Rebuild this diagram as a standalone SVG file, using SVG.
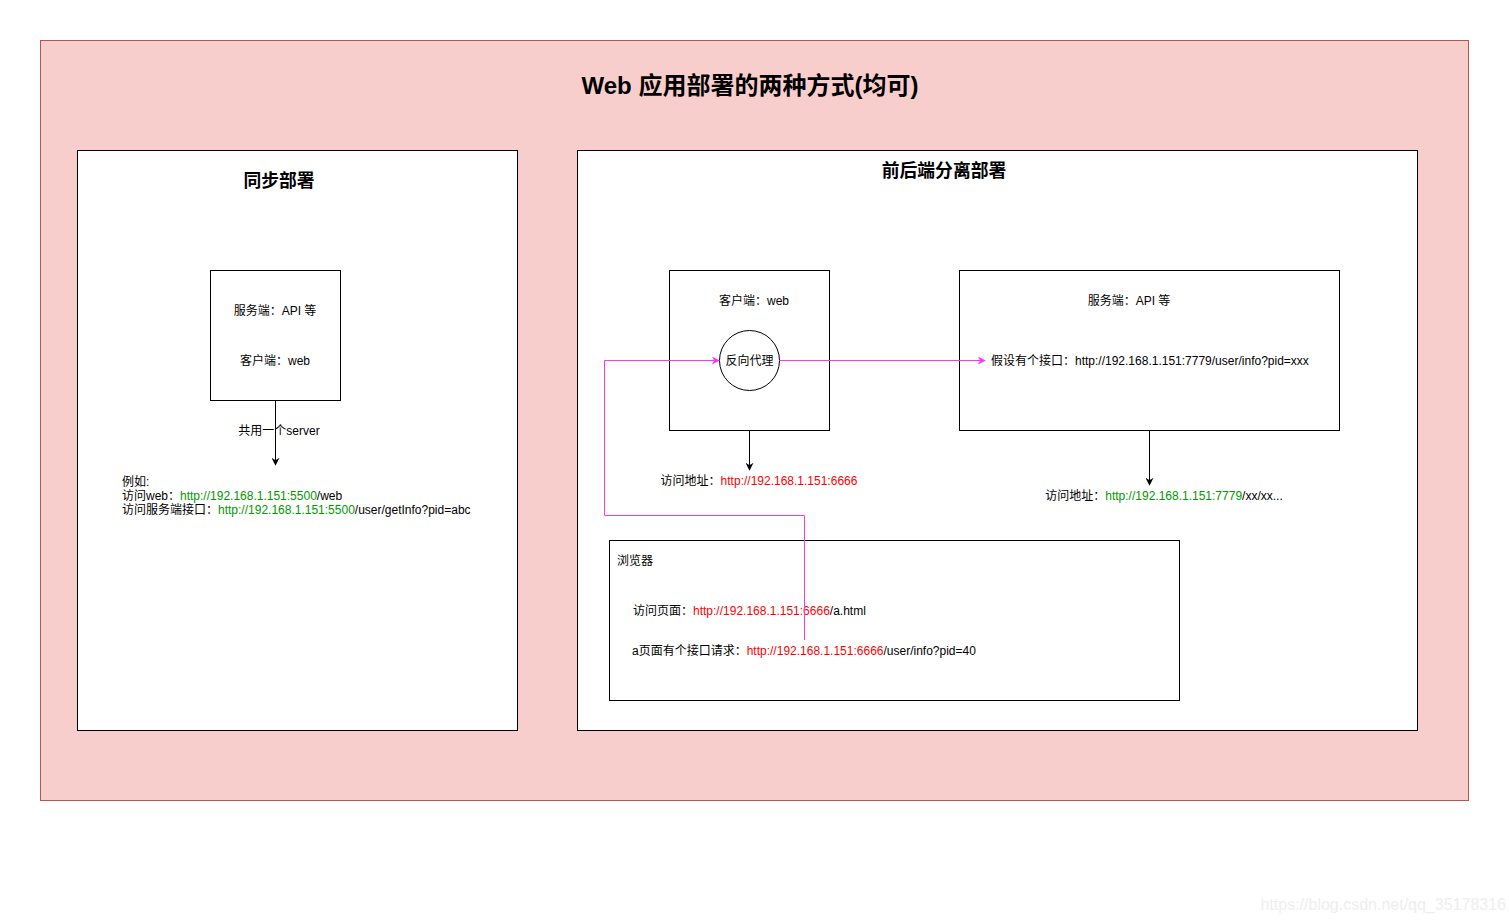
<svg xmlns="http://www.w3.org/2000/svg" width="1509" height="922" viewBox="0 0 1509 922">
<style>
text{font-family:"Liberation Sans","Noto Sans CJK SC",sans-serif;font-size:12px;fill:#000}
.t{font-weight:bold;font-size:17.8px}
.big{font-weight:bold;font-size:24px}
.box{fill:#fff;stroke:#000;stroke-width:1}
.r{fill:#ff0000}
.g{fill:#009900}
.ln{fill:none;stroke:#000;stroke-width:1}
.mg{fill:none;stroke:#ff33ff;stroke-width:1}
</style>
<defs>
<marker id="ab" viewBox="0 0 10 10" refX="9" refY="5" markerWidth="8" markerHeight="8" markerUnits="userSpaceOnUse" orient="auto"><path d="M0,0 L10,5 L0,10 L3,5 Z" fill="#000"/></marker>
<marker id="am" viewBox="0 0 10 10" refX="9" refY="5" markerWidth="8" markerHeight="8" markerUnits="userSpaceOnUse" orient="auto"><path d="M0,0 L10,5 L0,10 L3,5 Z" fill="#ff33ff"/></marker>
</defs>
<rect width="1509" height="922" fill="#fff"/>
<g id="container">
<rect x="40.5" y="40.5" width="1428" height="760" fill="#f8cecc" stroke="#b85450"/>
<text class="big" x="750" y="94" text-anchor="middle">Web 应用部署的两种方式(均可)</text>
</g>
<g id="sync">
<rect class="box" x="77.5" y="150.5" width="440" height="580"/>
<text class="t" x="279" y="187" text-anchor="middle">同步部署</text>
</g>
<g id="sync-server">
<rect class="box" x="210.5" y="270.5" width="130" height="130"/>
<text x="275" y="315" text-anchor="middle">服务端：API 等</text>
<text x="275" y="365" text-anchor="middle">客户端：web</text>
</g>
<g id="sync-note">
<text x="122" y="486">例如:</text>
<text x="122" y="500">访问web：<tspan class="g">http://192.168.1.151:5500</tspan>/web</text>
<text x="122" y="514">访问服务端接口：<tspan class="g">http://192.168.1.151:5500</tspan>/user/getInfo?pid=abc</text>
</g>
<g id="split">
<rect class="box" x="577.5" y="150.5" width="840" height="580"/>
<text class="t" x="944" y="177" text-anchor="middle">前后端分离部署</text>
</g>
<g id="client">
<rect class="box" x="669.5" y="270.5" width="160" height="160"/>
<text x="754" y="305" text-anchor="middle">客户端：web</text>
</g>
<g id="proxy">
<circle cx="749.5" cy="360.5" r="30" fill="#fff" stroke="#000"/>
<text x="749.5" y="365" text-anchor="middle">反向代理</text>
</g>
<g id="client-addr">
<text x="759" y="485" text-anchor="middle">访问地址：<tspan class="r">http://192.168.1.151:6666</tspan></text>
</g>
<g id="server">
<rect class="box" x="959.5" y="270.5" width="380" height="160"/>
<text x="1129" y="305" text-anchor="middle">服务端：API 等</text>
<text x="991" y="365">假设有个接口：http://192.168.1.151:7779/user/info?pid=xxx</text>
</g>
<g id="server-addr">
<text x="1164" y="500" text-anchor="middle">访问地址：<tspan class="g">http://192.168.1.151:7779</tspan>/xx/xx...</text>
</g>
<g id="browser">
<rect class="box" x="609.5" y="540.5" width="570" height="160"/>
<text x="617" y="565">浏览器</text>
<text x="633" y="615">访问页面：<tspan class="r">http://192.168.1.151:6666</tspan>/a.html</text>
<text x="632" y="655">a页面有个接口请求：<tspan class="r">http://192.168.1.151:6666</tspan>/user/info?pid=40</text>
</g>
<g id="connectors">
<line class="ln" x1="275.5" y1="400.5" x2="275.5" y2="465" marker-end="url(#ab)"/>
<text x="279" y="435" text-anchor="middle">共用一个server</text>
<line class="ln" x1="749.5" y1="430.5" x2="749.5" y2="470" marker-end="url(#ab)"/>
<line class="ln" x1="1149.5" y1="430.5" x2="1149.5" y2="485" marker-end="url(#ab)"/>
<path class="mg" d="M804.5,640 L804.5,515.5 L604.5,515.5 L604.5,360.5 L719,360.5" marker-end="url(#am)"/>
<line class="mg" x1="779.5" y1="360.5" x2="985" y2="360.5" marker-end="url(#am)"/>
</g>
<text x="1506" y="910" text-anchor="end" style="font-size:16px;fill:#eeeeee">https://blog.csdn.net/qq_35178316</text>
</svg>
